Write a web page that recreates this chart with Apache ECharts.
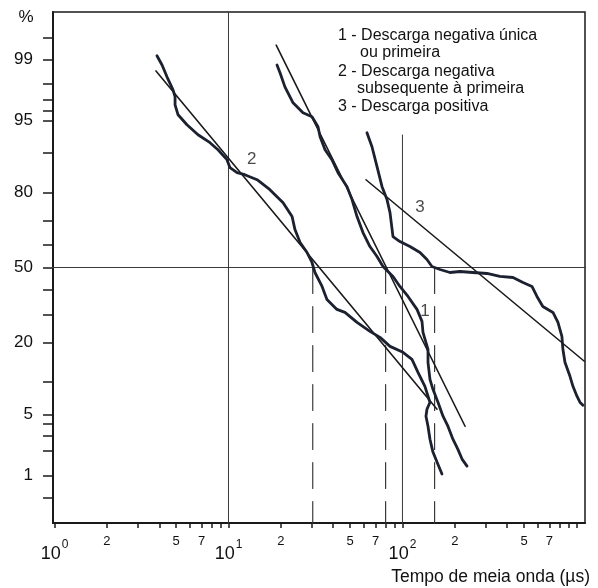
<!DOCTYPE html>
<html>
<head>
<meta charset="utf-8">
<script src="https://cdn.jsdelivr.net/npm/echarts@6/dist/echarts.min.js"></script>
<style>
  html, body { margin: 0; padding: 0; background: #fff; }
  #chart { width: 598px; height: 588px; }
</style>
</head>
<body>
<div id="chart"></div>
<script>
// tempo de meia onda (µs) x probabilidade acumulada (%)
const curve1 = [[19.0,98.83],[19.8,98.53],[21.1,97.84],[23.5,96.74],[26.8,95.84],[30.2,95.42],[32.7,94.24],[33.6,92.84],[35.9,90.63],[39.3,88.63],[42.6,85.57],[48.0,81.73],[51.3,77.64],[54.8,71.57],[59.3,65.21],[65.0,59.27],[71.4,54.89],[77.3,50.45],[88.2,46.0],[96.7,41.6],[107.6,37.3],[121.2,31.95],[129.5,27.32],[131.2,23.4],[140.2,17.98],[140.2,14.43],[143.9,10.54],[149.7,8.64],[160,6.58],[171,4.80],[182.5,3.78],[195,2.73],[208,2.10],[220,1.60],[235,1.31]];
const curve2 = [[3.88,99.11],[4.15,98.83],[4.43,98.36],[4.80,97.66],[4.93,97.2],[4.93,96.57],[5.13,95.63],[5.77,94.5],[6.68,93.14],[7.83,91.88],[8.70,90.63],[9.80,88.63],[10.2,86.8],[11.2,85.57],[12.4,85.06],[14.6,83.72],[17.3,80.83],[20.6,76.6],[23.2,71.57],[24.1,66.44],[25.8,61.0],[28.3,56.66],[30.2,52.23],[31.4,47.77],[34.5,41.6],[36.8,36.03],[42.0,31.95],[46.7,30.75],[54.8,26.94],[65.0,23.73],[74.3,21.71],[84.8,18.87],[100.7,17.11],[113.4,15.2],[122.8,12.04],[134.6,9.18],[140.2,7.48],[143.9,6.58],[138.3,5.63],[136.5,4.80],[140.2,3.78],[143.9,2.73],[149.7,1.94],[157.9,1.47],[168.7,1.04]];
const curve3 = [[62.5,93.43],[66.8,91.18],[71.4,87.04],[76.3,81.73],[81.5,77.64],[84.8,73.06],[88.2,63.55],[96.7,61.43],[110.4,59.27],[126.1,56.66],[138.3,53.56],[147.7,50.45],[164.3,49.11],[187.5,47.77],[214,48.22],[254,47.77],[306,47.33],[363,46.0],[432,45.55],[493,43.34],[555,41.6],[593,37.3],[641,33.15],[733,30.75],[783,26.94],[825,22.04],[836,17.98],[859,14.43],[918,11.16],[955,9.18],[1007,7.48],[1047,6.58],[1090,6.15]];

// retas ajustadas
const fit1 = [[18.8,99.36],[229,3.78]];
const fit2 = [[3.83,98.61],[158,5.63]];
const fit3 = [[61.7,83.7],[1110,14.7]];

// medianas (tracejadas) e linhas de referencia
const medians = [30.5, 80, 153];
const refV10 = [[10,99.9],[10,0.1]];
const refV100 = [[100,93.1],[100,0.1]];
const ref50 = [[0.5,50],[2000,50]];

const curveNames = ['1', '2', '3'];
const curveLabelAt = [[134.6,31.1],[13.6,88.6],[126,74.9]];

const xTickVals = [1,2,3,4,5,6,7,8,9,10,20,30,40,50,60,70,80,90,100,200,300,400,500,600,700,800,900,1000];
const xLabelVals = [1,2,5,7,10,20,50,70,100,200,500,700];
const yTickPct = [0.5,1,2,3,4,5,10,20,30,40,50,60,70,80,90,95,96,97,98,99,99.5];
const yLabelPct = [1,5,20,50,80,95,99];

const X_MIN = 0.98, X_MAX = 1120, Z_LIM = 2.86;
const FONT = 'Liberation Sans, Arial, sans-serif';
const INK = '#1c2130';

// inversa da normal (Acklam)
function probit(p) {
  const a = [-3.969683028665376e+01, 2.209460984245205e+02, -2.759285104469687e+02, 1.383577518672690e+02, -3.066479806614716e+01, 2.506628277459239e+00];
  const b = [-5.447609879822406e+01, 1.615858368580409e+02, -1.556989798598866e+02, 6.680131188771972e+01, -1.328068155288572e+01];
  const c = [-7.784894002430293e-03, -3.223964580411365e-01, -2.400758277161838e+00, -2.549732539343734e+00, 4.374664141464968e+00, 2.938163982698783e+00];
  const d = [7.784695709041462e-03, 3.224671290700398e-01, 2.445134137142996e+00, 3.754408661907416e+00];
  const pl = 0.02425;
  let q, r;
  if (p < pl) {
    q = Math.sqrt(-2 * Math.log(p));
    return (((((c[0]*q+c[1])*q+c[2])*q+c[3])*q+c[4])*q+c[5]) / ((((d[0]*q+d[1])*q+d[2])*q+d[3])*q+1);
  }
  if (p <= 1 - pl) {
    q = p - 0.5; r = q * q;
    return (((((a[0]*r+a[1])*r+a[2])*r+a[3])*r+a[4])*r+a[5])*q / (((((b[0]*r+b[1])*r+b[2])*r+b[3])*r+b[4])*r+1);
  }
  q = Math.sqrt(-2 * Math.log(1 - p));
  return -(((((c[0]*q+c[1])*q+c[2])*q+c[3])*q+c[4])*q+c[5]) / ((((d[0]*q+d[1])*q+d[2])*q+d[3])*q+1);
}

const P = pct => probit(pct / 100);
const L = v => Math.log10(v);
const toXY = arr => arr.map(([x, p]) => [L(x), P(p)]);

function lineSeries(data, width, color, type) {
  return {
    type: 'line', data: toXY(data), showSymbol: false, symbol: 'none',
    silent: true, animation: false, clip: true,
    lineStyle: { width: width, color: color, type: type || 'solid', cap: 'round', join: 'round' }
  };
}

const chart = echarts.init(document.getElementById('chart'));

const series = [
  lineSeries(ref50, 1, '#3a3a3a'),
  lineSeries(refV10, 1, '#3a3a3a'),
  lineSeries(refV100, 1, '#3a3a3a')
];
medians.forEach(m => series.push(lineSeries([[m, 50], [m, 0.1]], 1.2, '#3a3a3a', [26, 13])));
[fit1, fit2, fit3].forEach(f => series.push(lineSeries(f, 1.6, '#1a1a1a')));
[curve1, curve2, curve3].forEach(c => series.push(lineSeries(c, 2.8, INK)));
series.push({
  type: 'scatter', silent: true, animation: false, symbolSize: 1,
  itemStyle: { color: 'rgba(0,0,0,0)' },
  data: curveNames.map((n, i) => ({ name: n, value: [L(curveLabelAt[i][0]), P(curveLabelAt[i][1])] })),
  label: { show: true, position: 'inside', formatter: p => p.name, fontSize: 17, color: '#1a1a1a', fontFamily: FONT }
});

const option = {
  backgroundColor: '#fff',
  animation: false,
  grid: { left: 53, right: 13, top: 12, bottom: 65, show: true, borderColor: '#1a1a1a', borderWidth: 1.5 },
  xAxis: {
    type: 'value', min: L(X_MIN), max: L(X_MAX),
    splitLine: { show: false },
    axisLine: { onZero: false, lineStyle: { color: '#1a1a1a', width: 2 } },
    axisTick: { customValues: xTickVals.map(L), length: 5, lineStyle: { color: '#1a1a1a', width: 1.5 } },
    axisLabel: {
      customValues: xLabelVals.map(L),
      margin: 12,
      color: '#111',
      formatter: v => {
        const raw = Math.round(Math.pow(10, v));
        const e = Math.round(Math.log10(raw));
        return Math.pow(10, e) === raw ? '{p|10}{s|' + e + '}' : '{m|' + String(raw)[0] + '}';
      },
      rich: {
        m: { fontSize: 13, color: '#111', fontFamily: FONT },
        p: { fontSize: 18, color: '#111', fontFamily: FONT, padding: [10, 0, 0, 0] },
        s: { fontSize: 12, color: '#111', fontFamily: FONT, verticalAlign: 'top', padding: [4, 0, 0, 1] }
      }
    }
  },
  yAxis: {
    type: 'value', min: -Z_LIM, max: Z_LIM,
    splitLine: { show: false },
    axisLine: { onZero: false, lineStyle: { color: '#1a1a1a', width: 2 } },
    axisTick: { customValues: yTickPct.map(P), length: 10, lineStyle: { color: '#1a1a1a', width: 1.5 } },
    axisLabel: {
      customValues: yLabelPct.map(P),
      margin: 20, fontSize: 17, color: '#111', fontFamily: FONT,
      formatter: v => String(yLabelPct.find(p => Math.abs(P(p) - v) < 1e-6))
    }
  },
  graphic: [
    { type: 'text', x: 26, y: 17, style: { text: '%', font: '17px ' + FONT, fill: '#111', align: 'center', verticalAlign: 'middle' } },
    { type: 'text', x: 338, y: 36, style: { text: '1 - Descarga negativa única', font: '16px ' + FONT, fill: '#111', verticalAlign: 'middle' } },
    { type: 'text', x: 360, y: 53, style: { text: 'ou primeira', font: '16px ' + FONT, fill: '#111', verticalAlign: 'middle' } },
    { type: 'text', x: 338, y: 72, style: { text: '2 - Descarga negativa', font: '16px ' + FONT, fill: '#111', verticalAlign: 'middle' } },
    { type: 'text', x: 357, y: 89, style: { text: 'subsequente à primeira', font: '16px ' + FONT, fill: '#111', verticalAlign: 'middle' } },
    { type: 'text', x: 338, y: 107, style: { text: '3 - Descarga positiva', font: '16px ' + FONT, fill: '#111', verticalAlign: 'middle' } },
    { type: 'text', x: 590, y: 577, style: { text: 'Tempo de meia onda (µs)', font: '17.5px ' + FONT, fill: '#111', align: 'right', verticalAlign: 'middle' } }
  ],
  series: series
};

chart.setOption(option);
</script>
</body>
</html>
